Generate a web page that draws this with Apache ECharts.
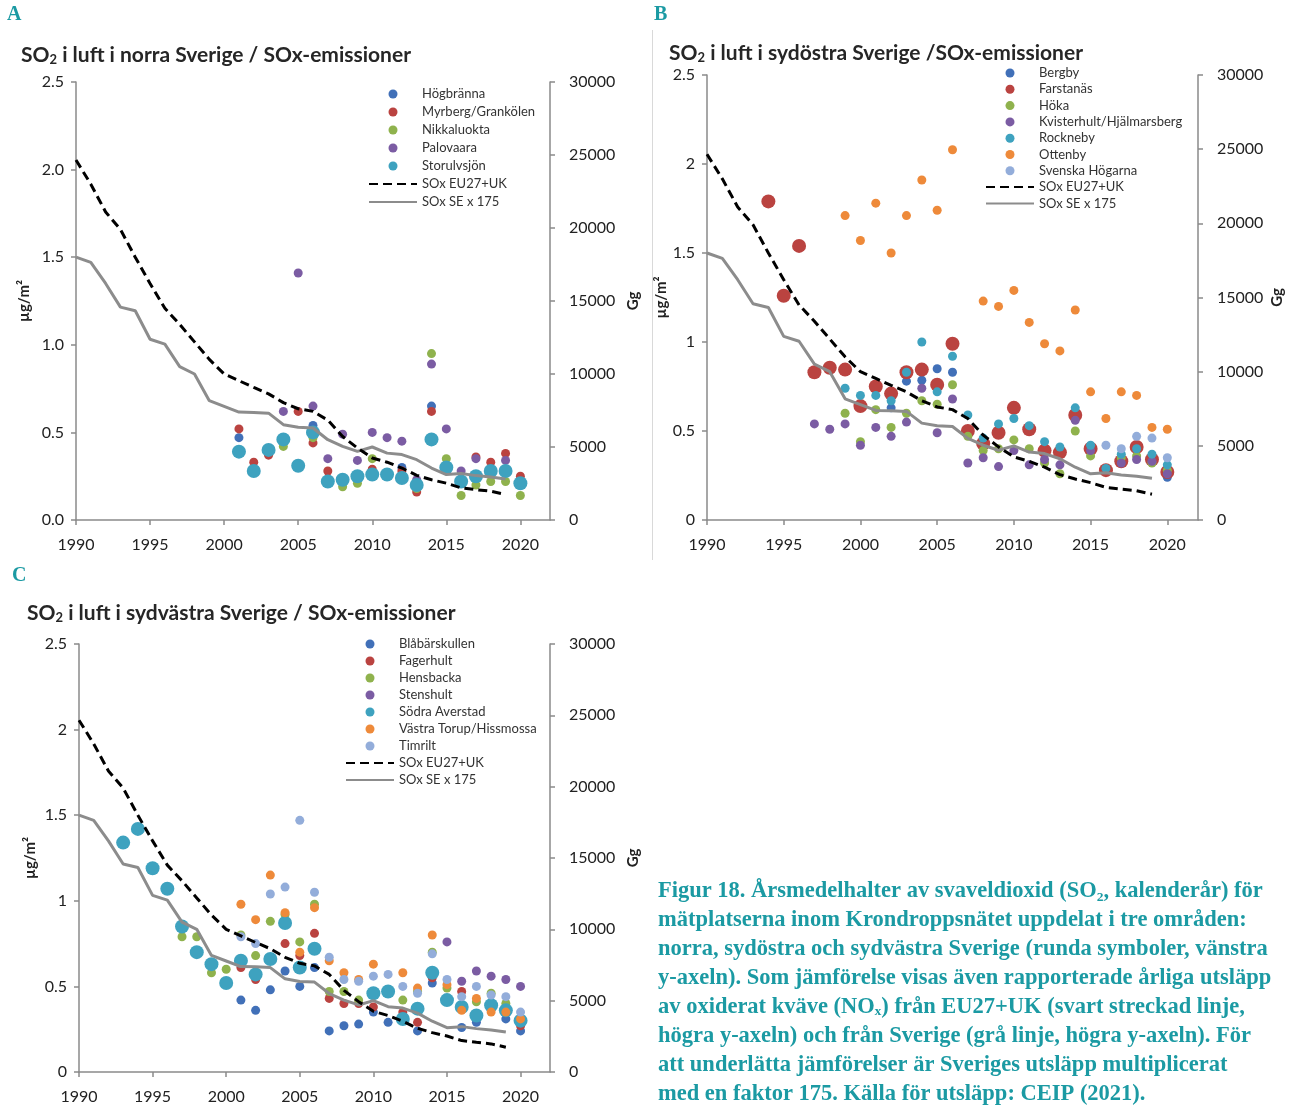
<!DOCTYPE html>
<html><head><meta charset="utf-8">
<script src="https://cdn.jsdelivr.net/npm/echarts@6/dist/echarts.min.js"></script>
<style>html,body{margin:0;padding:0;background:#fff}#c{width:1299px;height:1108px}</style>
</head><body><div id="c"></div>
<script>
// ---------- DATA ----------
const lineYears = [1990,1991,1992,1993,1994,1995,1996,1997,1998,1999,2000,2001,2002,2003,2004,2005,2006,2007,2008,2009,2010,2011,2012,2013,2014,2015,2016,2017,2018,2019];
const soxEU = [24660,23000,21100,19900,18000,16200,14500,13400,12200,11000,10000,9540,9080,8640,8040,7620,7440,6840,5720,4930,4250,3960,3560,3060,2760,2520,2200,2080,1970,1740];
const soxSE175 = [18000,17640,16200,14580,14330,12380,12050,10510,10000,8170,7780,7390,7370,7320,6530,6350,6300,5500,5040,4700,5000,4580,4480,4130,3560,3110,3180,3040,2950,2810];

// Panel A – norra Sverige
const hogbranna = [[2001,0.47],[2006,0.54],[2012,0.30],[2014,0.65]];
const myrberg = [[2001,0.52],[2002,0.33],[2003,0.37],[2005,0.62],[2006,0.44],[2007,0.28],[2010,0.29],[2012,0.28],[2013,0.16],[2014,0.62],[2017,0.36],[2018,0.33],[2019,0.38],[2020,0.25]];
const nikkaluokta = [[2004,0.42],[2005,0.32],[2006,0.47],[2008,0.19],[2009,0.21],[2010,0.35],[2013,0.18],[2014,0.95],[2015,0.35],[2016,0.14],[2017,0.20],[2018,0.22],[2019,0.22],[2020,0.14]];
const palovaara = [[2004,0.62],[2005,1.41],[2006,0.65],[2007,0.35],[2008,0.49],[2009,0.34],[2010,0.50],[2011,0.47],[2012,0.45],[2013,0.23],[2014,0.89],[2015,0.52],[2016,0.28],[2017,0.35],[2019,0.34]];
const storulvsjon = [[2001,0.39],[2002,0.28],[2003,0.40],[2004,0.46],[2005,0.31],[2006,0.50],[2007,0.22],[2008,0.23],[2009,0.25],[2010,0.26],[2011,0.26],[2012,0.24],[2013,0.20],[2014,0.46],[2015,0.30],[2016,0.22],[2017,0.25],[2018,0.28],[2019,0.28],[2020,0.21]];

// Panel B – sydöstra Sverige
const bergby = [[2002,0.63],[2003,0.78],[2004,0.785],[2005,0.85],[2006,0.83],[2020,0.24]];
const farstanas = [[1994,1.79],[1995,1.26],[1996,1.54],[1997,0.83],[1998,0.855],[1999,0.845],[2000,0.64],[2001,0.75],[2002,0.71],[2003,0.83],[2004,0.845],[2005,0.76],[2006,0.99],[2007,0.50],[2008,0.43],[2009,0.49],[2010,0.63],[2011,0.51],[2012,0.39],[2013,0.38],[2014,0.59],[2015,0.40],[2016,0.28],[2017,0.33],[2018,0.41],[2019,0.34],[2020,0.27]];
const hoka = [[1999,0.60],[2000,0.44],[2001,0.62],[2002,0.52],[2003,0.60],[2004,0.67],[2005,0.65],[2006,0.76],[2007,0.47],[2008,0.39],[2009,0.40],[2010,0.45],[2011,0.40],[2012,0.32],[2013,0.26],[2014,0.50],[2015,0.36],[2017,0.35],[2018,0.36],[2019,0.32],[2020,0.28]];
const kvisterhult = [[1997,0.54],[1998,0.51],[1999,0.54],[2000,0.42],[2001,0.52],[2002,0.47],[2003,0.55],[2004,0.74],[2005,0.49],[2006,0.68],[2007,0.32],[2008,0.35],[2009,0.30],[2010,0.39],[2011,0.31],[2012,0.34],[2013,0.31],[2014,0.56],[2015,0.39],[2017,0.32],[2018,0.34],[2019,0.33],[2020,0.26]];
const rockneby = [[1999,0.74],[2000,0.70],[2001,0.70],[2002,0.67],[2003,0.83],[2004,1.00],[2005,0.72],[2006,0.92],[2007,0.59],[2008,0.46],[2009,0.54],[2010,0.57],[2011,0.53],[2012,0.44],[2013,0.41],[2014,0.63],[2015,0.42],[2016,0.29],[2017,0.37],[2018,0.40],[2019,0.37],[2020,0.31]];
const ottenby = [[1999,1.71],[2000,1.57],[2001,1.78],[2002,1.50],[2003,1.71],[2004,1.91],[2005,1.74],[2006,2.08],[2008,1.23],[2009,1.20],[2010,1.29],[2011,1.11],[2012,0.99],[2013,0.95],[2014,1.18],[2015,0.72],[2016,0.57],[2017,0.72],[2018,0.70],[2019,0.52],[2020,0.51]];
const svenskaHogarna = [[2016,0.42],[2017,0.40],[2018,0.47],[2019,0.46],[2020,0.35]];

// Panel C – sydvästra Sverige
const blabarskullen = [[2001,0.42],[2002,0.36],[2003,0.48],[2004,0.59],[2005,0.50],[2006,0.61],[2007,0.24],[2008,0.27],[2009,0.28],[2010,0.35],[2011,0.29],[2013,0.24],[2014,0.52],[2016,0.26],[2017,0.29],[2019,0.31],[2020,0.24]];
const fagerhult = [[2001,0.61],[2002,0.54],[2004,0.75],[2005,0.68],[2006,0.81],[2007,0.43],[2008,0.40],[2009,0.40],[2010,0.38],[2012,0.35],[2013,0.29],[2014,0.55],[2016,0.47],[2020,0.27]];
const hensbacka = [[1997,0.79],[1998,0.79],[1999,0.58],[2000,0.60],[2001,0.80],[2002,0.68],[2003,0.88],[2004,0.92],[2005,0.76],[2006,0.98],[2007,0.47],[2008,0.47],[2009,0.42],[2012,0.42],[2013,0.47],[2014,0.70],[2015,0.49],[2017,0.41],[2018,0.46],[2019,0.40]];
const stenshult = [[2015,0.76],[2016,0.53],[2017,0.59],[2018,0.56],[2019,0.54],[2020,0.50]];
const sodraAverstad = [[1993,1.34],[1994,1.42],[1995,1.19],[1996,1.07],[1997,0.85],[1998,0.70],[1999,0.63],[2000,0.52],[2001,0.65],[2002,0.57],[2003,0.66],[2004,0.87],[2005,0.61],[2006,0.72],[2010,0.46],[2011,0.47],[2012,0.31],[2013,0.37],[2014,0.58],[2015,0.42],[2016,0.38],[2017,0.33],[2018,0.39],[2019,0.36],[2020,0.30]];
const vastraTorup = [[2001,0.98],[2002,0.89],[2003,1.15],[2004,0.93],[2005,0.70],[2006,0.96],[2007,0.65],[2008,0.58],[2009,0.54],[2010,0.63],[2012,0.58],[2013,0.49],[2014,0.80],[2015,0.51],[2016,0.36],[2017,0.43],[2018,0.35],[2019,0.35],[2020,0.31]];
const timrilt = [[2001,0.79],[2002,0.75],[2003,1.04],[2004,1.08],[2005,1.47],[2006,1.05],[2007,0.67],[2008,0.54],[2009,0.53],[2010,0.56],[2011,0.57],[2012,0.50],[2013,0.46],[2014,0.69],[2015,0.54],[2016,0.44],[2017,0.50],[2018,0.45],[2019,0.44],[2020,0.35]];

const leftTicksA = ['0.0','0.5','1.0','1.5','2.0','2.5'];
const leftTicksBC = ['0','0.5','1','1.5','2','2.5'];

const captionLines = [
  'Figur 18. Årsmedelhalter av svaveldioxid (SO₂, kalenderår) för',
  'mätplatserna inom Krondroppsnätet uppdelat i tre områden:',
  'norra, sydöstra och sydvästra Sverige (runda symboler, vänstra',
  'y-axeln). Som jämförelse visas även rapporterade årliga utsläpp',
  'av oxiderat kväve (NOₓ) från EU27+UK (svart streckad linje,',
  'högra y-axeln) och från Sverige (grå linje, högra y-axeln). För',
  'att underlätta jämförelser är Sveriges utsläpp multiplicerat',
  'med en faktor 175. Källa för utsläpp: CEIP (2021).'
];

// ---------- STYLE ----------
const COL = {blue:'#4170B8', red:'#BA4340', green:'#8FB24D', purple:'#7B5CA3', teal:'#3EA2BF', orange:'#EE8A3A', light:'#93ADDA'};
const FONT = 'Lato';
const AXC = '#8a8a8a';
const TEAL_TXT = '#1b9aa3';

const panels = [
  { grid:{left:76, top:82, width:474, height:438}, ticks:leftTicksA,
    stations:[['Högbränna',hogbranna,COL.blue,false],['Myrberg/Grankölen',myrberg,COL.red,false],['Nikkaluokta',nikkaluokta,COL.green,false],['Palovaara',palovaara,COL.purple,false],['Storulvsjön',storulvsjon,COL.teal,true]],
    legend:{left:368, top:87, gap:4}, leftGap:44, rightGap:76 },
  { grid:{left:707, top:75, width:491, height:445}, ticks:leftTicksBC,
    stations:[['Bergby',bergby,COL.blue,false],['Farstanäs',farstanas,COL.red,true],['Höka',hoka,COL.green,false],['Kvisterhult/Hjälmarsberg',kvisterhult,COL.purple,false],['Rockneby',rockneby,COL.teal,false],['Ottenby',ottenby,COL.orange,false],['Svenska Högarna',svenskaHogarna,COL.light,false]],
    legend:{left:985, top:66, gap:2.3}, leftGap:27, rightGap:72 },
  { grid:{left:79, top:644, width:471, height:428}, ticks:leftTicksBC,
    stations:[['Blåbärskullen',blabarskullen,COL.blue,false],['Fagerhult',fagerhult,COL.red,false],['Hensbacka',hensbacka,COL.green,false],['Stenshult',stenshult,COL.purple,false],['Södra Averstad',sodraAverstad,COL.teal,true],['Västra Torup/Hissmossa',vastraTorup,COL.orange,false],['Timrilt',timrilt,COL.light,false]],
    legend:{left:345, top:637, gap:3}, leftGap:41, rightGap:76 }
];

const grids=[], xAxes=[], yAxes=[], series=[], legends=[];
panels.forEach((p,i)=>{
  grids.push(Object.assign({containLabel:false}, p.grid));
  xAxes.push({type:'value', gridIndex:i, min:1990, max:2022, interval:5,
    axisLine:{lineStyle:{color:AXC, width:1.5}}, axisTick:{length:5, lineStyle:{color:AXC, width:1.5}},
    splitLine:{show:false},
    axisLabel:{color:'#222', fontFamily:FONT, fontSize:16, margin:17, showMaxLabel:false,
      formatter:v=> (v%5===0 && v<=2020) ? String(v) : ''}});
  const tk = p.ticks;
  yAxes.push({type:'value', gridIndex:i, min:0, max:2.5, interval:0.5, position:'left',
    name:'µg/m²', nameLocation:'middle', nameGap:p.leftGap, nameRotate:90,
    nameTextStyle:{fontFamily:FONT, fontSize:15, fontWeight:'bold', color:'#222'},
    axisLine:{show:true, lineStyle:{color:AXC, width:1.5}}, axisTick:{show:true, length:5, lineStyle:{color:AXC, width:1.5}},
    splitLine:{show:false},
    axisLabel:{color:'#222', fontFamily:FONT, fontSize:16, margin:12, formatter:v=>tk[Math.round(v/0.5)]}});
  yAxes.push({type:'value', gridIndex:i, min:0, max:30000, interval:5000, position:'right',
    name:'Gg', nameLocation:'middle', nameGap:p.rightGap, nameRotate:90,
    nameTextStyle:{fontFamily:FONT, fontSize:15, fontWeight:'bold', color:'#222'},
    axisLine:{show:true, lineStyle:{color:AXC, width:1.5}}, axisTick:{show:true, length:5, lineStyle:{color:AXC, width:1.5}},
    splitLine:{show:false},
    axisLabel:{color:'#222', fontFamily:FONT, fontSize:16, margin:19, formatter:v=>String(v)}});
  const names=[];
  p.stations.forEach(([name,data,color,big])=>{
    names.push(name);
    series.push({type:'scatter', name, xAxisIndex:i, yAxisIndex:2*i, data,
      symbol:'circle', symbolSize: big?14:9, itemStyle:{color, opacity:1}, z:2, silent:true});
  });
  series.push({type:'line', name:'SOx EU27+UK', xAxisIndex:i, yAxisIndex:2*i+1,
    data: lineYears.map((y,k)=>[y, soxEU[k]]), symbol:'none', z:4, silent:true,
    itemStyle:{color:'#000', opacity:0},
    lineStyle:{color:'#000', width:3, type:[9,5]}});
  series.push({type:'line', name:'SOx SE x 175', xAxisIndex:i, yAxisIndex:2*i+1,
    data: lineYears.map((y,k)=>[y, soxSE175[k]]), symbol:'none', z:3, silent:true,
    itemStyle:{color:'#8c8c8c', opacity:0},
    lineStyle:{color:'#8c8c8c', width:3}});
  const legData = names.map(n=>({name:n}));
  legData.push({name:'SOx EU27+UK', itemStyle:{opacity:0}}, {name:'SOx SE x 175', itemStyle:{opacity:0}});
  legends.push({show:true, orient:'vertical', left:p.legend.left, top:p.legend.top, selectedMode:false,
    itemWidth:48, itemHeight:9, itemGap:p.legend.gap, padding:0,
    textStyle:{fontFamily:FONT, fontSize:13, color:'#333', lineHeight:14}, data:legData});
});

const titleRich = {
  b:{fontFamily:FONT, fontSize:21, fontWeight:'bold', color:'#262626', lineHeight:26, verticalAlign:'bottom'},
  s:{fontFamily:FONT, fontSize:13, fontWeight:'bold', color:'#262626', lineHeight:12, verticalAlign:'bottom'}
};
const mkTitle = (txt,left,top)=>({left, top, text:'{b|SO}{s|2}{b|'+txt+'}', padding:0,
  textStyle:{rich:titleRich}});

const graphics = [
  {type:'text', left:7, top:5, style:{text:'A', font:'bold 20px "Liberation Serif"', fill:TEAL_TXT}},
  {type:'text', left:654, top:5, style:{text:'B', font:'bold 20px "Liberation Serif"', fill:TEAL_TXT}},
  {type:'text', left:12, top:566, style:{text:'C', font:'bold 20px "Liberation Serif"', fill:TEAL_TXT}},
  {type:'line', shape:{x1:652.5, y1:30, x2:652.5, y2:560}, style:{stroke:'#d9d9d9', lineWidth:1}}
];
captionLines.forEach((t,k)=>{
  graphics.push({type:'text', left:658, top:880 + k*28.9,
    style:{text:t, font:'bold 22.5px "Liberation Serif"', fill:TEAL_TXT}});
});

const chart = echarts.init(document.getElementById('c'), null, {renderer:'canvas'});
chart.setOption({
  animation:false,
  backgroundColor:'#fff',
  title:[
    mkTitle(' i luft i norra Sverige / SOx-emissioner', 21, 40),
    mkTitle(' i luft i sydöstra Sverige /SOx-emissioner', 669, 38),
    mkTitle(' i luft i sydvästra Sverige / SOx-emissioner', 27, 598)
  ],
  grid:grids, xAxis:xAxes, yAxis:yAxes, legend:legends, series, graphic:graphics
});
</script></body></html>
